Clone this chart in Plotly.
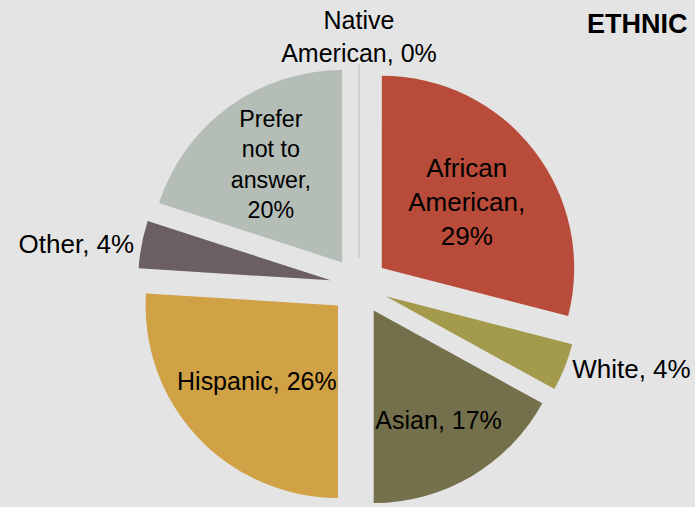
import plotly.graph_objects as go

categories = ["African American", "White", "Asian", "Hispanic", "Other",
              "Prefer not to answer", "Native American"]
values = [29, 4, 17, 26, 4, 20, 0]
text_labels = ["African<br>American,<br>29%", "White, 4%", "Asian, 17%",
               "Hispanic, 26%", "Other, 4%", "Prefer<br>not to<br>answer,<br>20%",
               "Native<br>American, 0%"]
colors = ["#B84B39", "#A39B4B", "#74704B", "#D0A145", "#6B5F62", "#B5BDB7", "#C8C8C8"]
positions = ["inside", "outside", "inside", "inside", "outside", "inside", "none"]
title_text = "ETHNIC"

FONT = "Arial, Liberation Sans, sans-serif"

# the 0% slice sits exactly at 12 o'clock; its label is shown centred above the pie
zero_label = text_labels[values.index(0)]

fig = go.Figure(go.Pie(
    labels=categories,
    values=values,
    text=text_labels,
    textinfo="text",
    textposition=positions,
    insidetextorientation="horizontal",
    sort=False,
    direction="clockwise",
    rotation=0,
    pull=[0.15] * len(values),
    automargin=False,
    title=dict(text=zero_label, position="top center",
               font=dict(family=FONT, size=25, color="#000000")),
    marker=dict(colors=colors,
                line=dict(color="#C8C8C8", width=[0, 0, 0, 0, 0, 0, 1.5])),
    textfont=dict(family=FONT, size=26, color="#000000"),
    outsidetextfont=dict(family=FONT, size=26, color="#000000"),
    insidetextfont=dict(family=FONT, size=26, color="#000000"),
    hoverinfo="label+percent",
))

fig.update_layout(
    width=695, height=507,
    autosize=False,
    margin=dict(l=100, r=77, t=4, b=0, autoexpand=False),
    paper_bgcolor="#E4E4E4",
    plot_bgcolor="#E4E4E4",
    showlegend=False,
    title=dict(text="<b>" + title_text + "</b>", x=587 / 695, xanchor="left", xref="container",
               y=0.953, yanchor="middle", yref="container",
               font=dict(family=FONT, size=27, color="#000000")),
)

fig.write_html("out.html")
